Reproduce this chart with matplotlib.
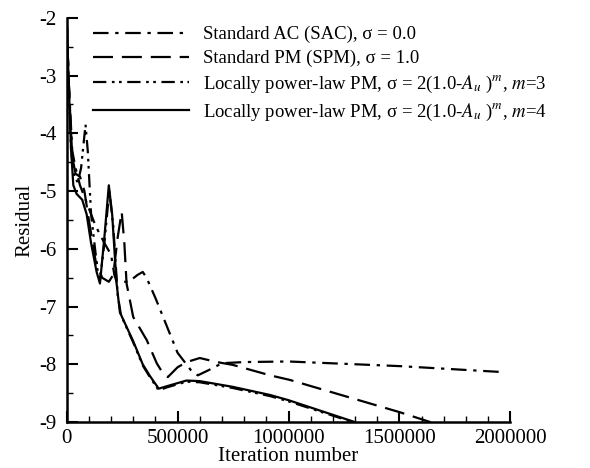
import matplotlib
matplotlib.use("Agg")
import matplotlib.pyplot as plt
from matplotlib.ticker import MultipleLocator, FormatStrFormatter
import numpy as np

plt.rcParams['font.family'] = ['Liberation Serif', 'DejaVu Serif']
plt.rcParams['mathtext.fontset'] = 'stix'
plt.rcParams['axes.unicode_minus'] = False

# iteration / residual pairs
sac_x = [0, 8000, 25000, 40000, 60000, 90000, 130000, 170000, 200000, 215000, 225000,
         280000, 320000, 343000, 360000, 400000, 500000, 560000, 591000, 640000,
         700000, 800000, 1000000, 1500000, 1950000]
sac_y = [-2.0, -3.0, -4.3, -4.6, -4.9, -5.2, -5.6, -5.9, -6.1, -6.45, -6.57,
         -6.57, -6.45, -6.4, -6.5, -6.85, -7.8, -8.1, -8.19, -8.1,
         -7.98, -7.96, -7.95, -8.03, -8.13]

spm_x = [0, 8000, 25000, 40000, 60000, 80000, 100000, 130000, 160000, 190000, 210000,
         230000, 248000, 260000, 270000, 300000, 361000, 406000, 433000, 456000,
         500000, 541000, 600000, 677000, 750000, 917000, 1007000, 1503000, 1640000]
spm_y = [-2.0, -3.0, -4.4, -4.7, -4.75, -5.0, -5.5, -6.2, -6.5, -6.57, -6.45,
         -5.8, -5.36, -5.9, -6.6, -7.18, -7.58, -7.98, -8.15, -8.22,
         -8.05, -7.96, -7.89, -7.96, -8.01, -8.19, -8.27, -8.83, -9.0]

m3_x = [0, 8000, 20000, 35000, 50000, 65000, 85000, 95000, 110000, 140000, 150000,
        170000, 192000, 210000, 230000, 245000, 300000, 343000, 375000, 415000,
        450000, 540000, 600000, 750000, 917000, 1000000, 1290000]
m3_y = [-2.0, -3.0, -4.3, -4.75, -4.85, -4.6, -3.85, -4.3, -5.4, -6.4, -6.55,
        -5.9, -5.0, -5.6, -6.8, -7.15, -7.62, -8.02, -8.22, -8.45,
        -8.4, -8.3, -8.31, -8.41, -8.55, -8.64, -9.0]

m4_x = [0, 8000, 20000, 30000, 45000, 70000, 90000, 110000, 135000, 150000, 170000,
        190000, 205000, 225000, 240000, 300000, 343000, 375000, 415000, 450000,
        540000, 600000, 750000, 917000, 1000000, 1300000]
m4_y = [-2.0, -3.0, -4.3, -4.9, -5.05, -5.15, -5.4, -5.9, -6.4, -6.6, -5.8,
        -4.9, -5.4, -6.6, -7.1, -7.6, -8.0, -8.2, -8.42, -8.38,
        -8.28, -8.29, -8.39, -8.53, -8.62, -9.0]

labels = [r'Standard AC (SAC), σ = 0.0',
          r'Standard PM (SPM), σ = 1.0',
          r'Locally power-law PM, σ = 2(1.0-$A_u$ )$^m$, $m$=3',
          r'Locally power-law PM, σ = 2(1.0-$A_u$ )$^m$, $m$=4']

fig = plt.figure(figsize=(5.9, 4.68), dpi=100)
ax = fig.add_axes([0.113, 0.098, 0.752, 0.864])

lw = 1.6
ax.plot(sac_x, sac_y, color='black', lw=lw, dashes=(7, 3, 1.5, 3), label=labels[0])
ax.plot(spm_x, spm_y, color='black', lw=lw, dashes=(9, 4), label=labels[1])
ax.plot(m3_x, m3_y, color='black', lw=lw, dashes=(6, 2.5, 1.2, 2, 1.2, 2.5), label=labels[2])
ax.plot(m4_x, m4_y, color='black', lw=lw, label=labels[3])

ax.set_xlim(0, 2000000)
ax.set_ylim(-9, -2)
ax.xaxis.set_major_locator(MultipleLocator(500000))
ax.xaxis.set_minor_locator(MultipleLocator(100000))
ax.xaxis.set_major_formatter(FormatStrFormatter('%d'))
ax.yaxis.set_major_locator(MultipleLocator(1))
ax.yaxis.set_minor_locator(MultipleLocator(0.5))
ax.yaxis.set_major_formatter(FormatStrFormatter('%d'))
ax.spines['top'].set_visible(False)
ax.spines['right'].set_visible(False)
for s in ['left', 'bottom']:
    ax.spines[s].set_linewidth(1.8)
ax.tick_params(which='major', direction='in', length=8, width=1.5, labelsize=15)
ax.tick_params(axis='x', which='major', pad=5)
ax.tick_params(axis='y', which='major', pad=7)
ax.tick_params(which='minor', direction='in', length=4, width=1.0)
ax.set_xlabel('Iteration number', fontsize=15, labelpad=-1)
ax.set_ylabel('Residual', fontsize=15, labelpad=4)

ax.legend(loc='upper left', bbox_to_anchor=(93 / 590, 1 - 26 / 468),
          bbox_transform=fig.transFigure, frameon=False, fontsize=13.5,
          handlelength=5.1, handletextpad=0.75, labelspacing=0.35, borderpad=0,
          borderaxespad=0)

fig.savefig('out.png', dpi=100)
